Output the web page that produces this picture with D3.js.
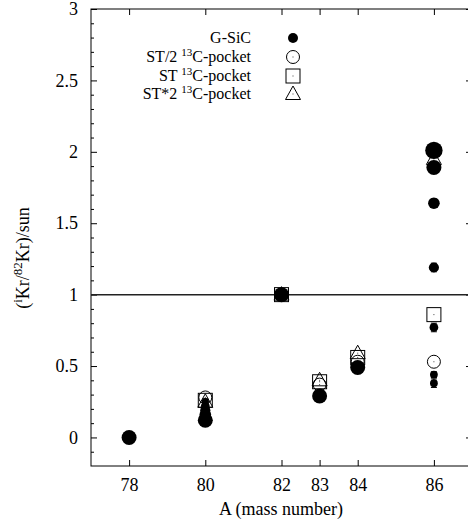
<!DOCTYPE html>
<html><head><meta charset="utf-8">
<script src="https://cdn.jsdelivr.net/npm/d3@7"></script>
<style>body{margin:0;background:#fff}svg{display:block}svg text{font-family:"Liberation Serif","Times New Roman",Tinos,"DejaVu Serif","Noto Serif",serif !important;fill:#000}</style>
</head><body><svg id="c" width="468" height="529"></svg>
<script>
// ---- data ----
const xTicks = [78, 80, 82, 83, 84, 86];
const yTicks = [0, 0.5, 1, 1.5, 2, 2.5, 3];
const gsicMass = [78, 80, 80, 80, 80, 80, 82, 83, 84, 86, 86, 86, 86, 86, 86, 86];
const gsicRatio = [0, 0.12, 0.16, 0.19, 0.22, 0.25, 1, 0.29, 0.49, 2.01, 1.89, 1.64, 1.19, 0.77, 0.44, 0.38];
const gsicErr = [0, 0.02, 0.02, 0.02, 0.02, 0.02, 0, 0.02, 0.02, 0.03, 0.03, 0.03, 0.03, 0.03, 0.02, 0.03];
const gsicWeight = [5, 5, 3.6, 3, 2.4, 1.8, 5, 5, 5, 6, 5, 3.6, 3, 2.4, 2, 2];
const modelMass = [80, 82, 83, 84, 86];
const stHalf = [0.28, 1, 0.37, 0.53, 0.53];
const stOne = [0.26, 1, 0.39, 0.56, 0.86];
const stTwo = [0.25, 1, 0.40, 0.59, 1.95];
const legendNames = ["G-SiC", "ST/2", "ST", "ST*2"];

// ---- layout ----
const svg = d3.select("#c");
const FONT = '"Liberation Serif","Times New Roman",Tinos,"DejaVu Serif",serif';
const L = 91, R = 472, T = 9, B = 466;
const x = d3.scaleLinear().domain([77, 87]).range([L, R]);
const y = d3.scaleLinear().domain([-0.2, 3]).range([B, T]);
const rScale = d3.scaleLinear().domain([0, 5]).range([1.5, 7.5]);
const FS = 18;

// frame
svg.append("rect").attr("x", L).attr("y", T).attr("width", R - L).attr("height", B - T)
  .attr("fill", "none").attr("stroke", "#000").attr("stroke-width", 1);

// axes
function styleAxis(g) { g.attr("font-family", FONT); g.select(".domain").remove(); g.selectAll("line").attr("stroke", "#000"); g.selectAll("text").attr("font-size", FS).attr("font-family", FONT); }
svg.append("g").attr("transform", `translate(0,${B})`)
  .call(d3.axisBottom(x).tickValues(xTicks).tickSizeInner(-6).tickSizeOuter(0).tickPadding(12).tickFormat(d3.format("d"))).call(styleAxis);
svg.append("g").attr("transform", `translate(0,${T})`)
  .call(d3.axisTop(x).tickValues(xTicks).tickSizeInner(-6).tickSizeOuter(0).tickFormat("")).call(styleAxis);
svg.append("g").attr("transform", `translate(${L},0)`)
  .call(d3.axisLeft(y).tickValues(yTicks).tickSizeInner(-6).tickSizeOuter(0).tickPadding(13).tickFormat(d3.format("~g"))).call(styleAxis);
const minor = d3.range(-1, 30).map(d => d / 10).filter(d => Math.abs(d * 2 - Math.round(d * 2)) > 1e-6);
svg.append("g").attr("transform", `translate(${L},0)`)
  .call(d3.axisLeft(y).tickValues(minor).tickSizeInner(-3).tickSizeOuter(0).tickFormat("")).call(styleAxis);
svg.append("g").attr("transform", `translate(${R},0)`)
  .call(d3.axisRight(y).tickValues(yTicks).tickSizeInner(-6).tickSizeOuter(0).tickFormat("")).call(styleAxis);

// titles
svg.append("text").attr("x", 281).attr("y", 515).attr("text-anchor", "middle").attr("font-size", FS).attr("font-family", FONT).text("A (mass number)");
const yt = svg.append("text").attr("transform", "translate(29,258) rotate(-90)").attr("text-anchor", "middle").attr("font-size", FS).attr("font-family", FONT);
yt.append("tspan").text("(");
yt.append("tspan").attr("font-size", 13).attr("dy", -7).text("i");
yt.append("tspan").attr("dy", 7).text("Kr/");
yt.append("tspan").attr("font-size", 13).attr("dy", -7).text("82");
yt.append("tspan").attr("dy", 7).text("Kr)/sun");

// reference line
svg.append("line").attr("x1", L).attr("x2", R).attr("y1", y(1)).attr("y2", y(1)).attr("stroke", "#222").attr("stroke-width", 1.5);

// symbols
function dot(g, cx, cy) { g.append("rect").attr("x", cx - 0.5).attr("y", cy - 0.5).attr("width", 1).attr("height", 1).attr("fill", "#444"); }
function openCircle(g, cx, cy) { g.append("circle").attr("cx", cx).attr("cy", cy).attr("r", 6.5).attr("fill", "none").attr("stroke", "#000"); dot(g, cx, cy); }
function openSquare(g, cx, cy) { g.append("rect").attr("x", cx - 7).attr("y", cy - 7).attr("width", 14).attr("height", 14).attr("fill", "none").attr("stroke", "#000"); dot(g, cx, cy); }
function openTri(g, cx, cy) { g.append("path").attr("d", `M${cx},${cy - 8}L${cx + 7.5},${cy + 5.5}L${cx - 7.5},${cy + 5.5}Z`).attr("fill", "none").attr("stroke", "#000"); dot(g, cx, cy); }

const gm = svg.append("g");
modelMass.forEach((m, i) => { openCircle(gm, x(m), y(stHalf[i])); });
modelMass.forEach((m, i) => { openSquare(gm, x(m), y(stOne[i])); });
modelMass.forEach((m, i) => { openTri(gm, x(m), y(stTwo[i])); });

// G-SiC data
const gd = svg.append("g");
gsicMass.forEach((m, i) => {
  const cx = x(m), e = gsicErr[i];
  if (e > 0) {
    gd.append("line").attr("x1", cx).attr("x2", cx).attr("y1", y(gsicRatio[i] - e)).attr("y2", y(gsicRatio[i] + e)).attr("stroke", "#000");
    [gsicRatio[i] - e, gsicRatio[i] + e].forEach(v => gd.append("line").attr("x1", cx - 3).attr("x2", cx + 3).attr("y1", y(v)).attr("y2", y(v)).attr("stroke", "#000"));
  }
});
gsicMass.forEach((m, i) => {
  gd.append("circle").attr("cx", x(m)).attr("cy", y(gsicRatio[i])).attr("r", rScale(gsicWeight[i])).attr("fill", "#000");
});

// legend
const lx = 251, sx = 293, ly = [38, 57, 76, 94];
legendNames.forEach((n, i) => {
  const t = svg.append("text").attr("x", lx).attr("y", ly[i] + 5).attr("text-anchor", "end").attr("font-size", 16).attr("font-family", FONT);
  if (i === 0) { t.text(n); }
  else {
    t.append("tspan").text(n + " ");
    t.append("tspan").attr("font-size", 11).attr("dy", -6).text("13");
    t.append("tspan").attr("dy", 6).text("C-pocket");
  }
});
svg.append("circle").attr("cx", sx).attr("cy", ly[0]).attr("r", 5).attr("fill", "#000");
openCircle(svg, sx, ly[1]);
openSquare(svg, sx, ly[2]);
openTri(svg, sx, ly[3]);
</script></body></html>
